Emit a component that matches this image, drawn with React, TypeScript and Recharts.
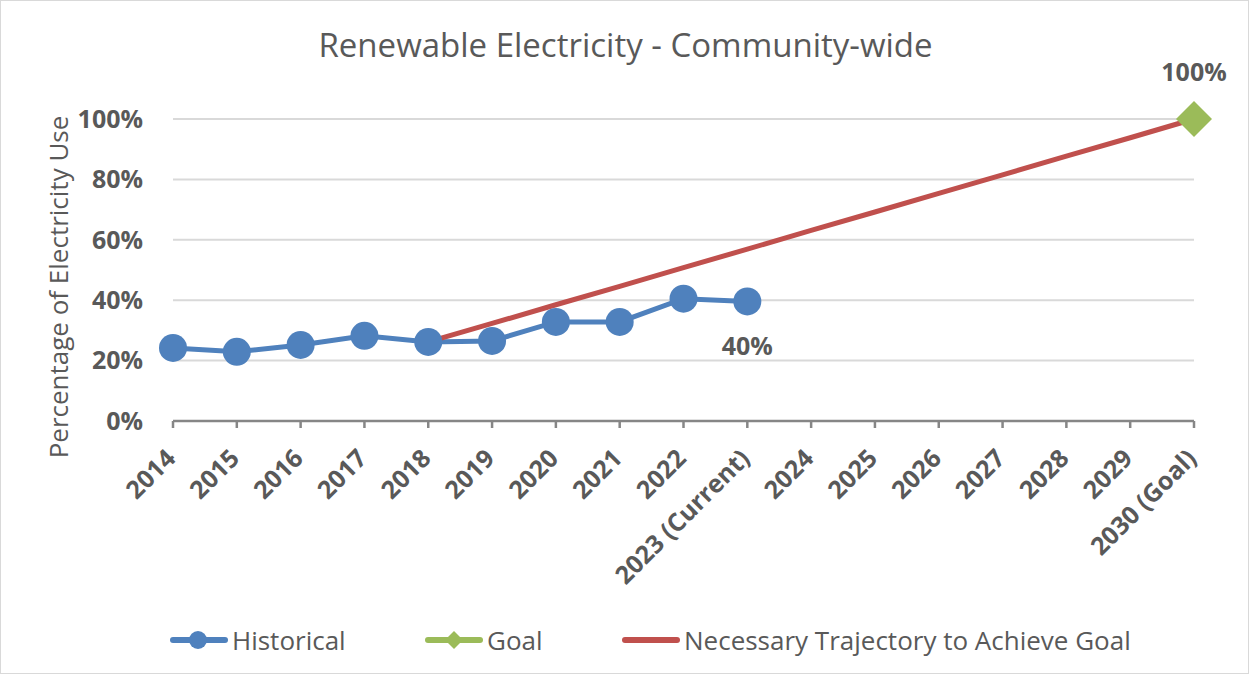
import { LineChart, Line, XAxis, YAxis, CartesianGrid, LabelList } from "recharts";

const categories = [
  "2014", "2015", "2016", "2017", "2018", "2019", "2020", "2021", "2022",
  "2023 (Current)", "2024", "2025", "2026", "2027", "2028", "2029", "2030 (Goal)",
];
const historical = [0.242, 0.229, 0.252, 0.282, 0.262, 0.265, 0.328, 0.328, 0.405, 0.396, null, null, null, null, null, null, null];
const goal = [null, null, null, null, null, null, null, null, null, null, null, null, null, null, null, null, 1.0];
const trajectory = [null, null, null, null, 0.262, 0.323, 0.385, 0.446, 0.508, 0.569, 0.631, 0.692, 0.754, 0.815, 0.877, 0.938, 1.0];
const yTicks = [0, 0.2, 0.4, 0.6, 0.8, 1.0];

const data = categories.map((c, i) => ({
  name: c,
  historical: historical[i],
  goal: goal[i],
  trajectory: trajectory[i],
}));

const FONT = "'Open Sans', 'Noto Sans', sans-serif";
const GREY = "#595959";
const BLUE = "#4f81bd";
const GREEN = "#9bbb59";
const RED = "#c0504d";

const pct = (v: number) => `${Math.round(v * 100)}%`;

function XTick({ x, y, payload }: any) {
  return (
    <text
      transform={`translate(${x + 4},${y + 30}) rotate(-45)`}
      textAnchor="end"
      fill={GREY}
      fontSize={25}
      fontWeight={700}
      fontFamily={FONT}
    >
      {payload.value}
    </text>
  );
}

function YTick({ x, y, payload }: any) {
  return (
    <text x={x - 2} y={y} dy="0.35em" textAnchor="end" fill={GREY} fontSize={25} fontWeight={700} fontFamily={FONT}>
      {pct(payload.value)}
    </text>
  );
}

function Diamond({ cx, cy, value }: any) {
  if (value == null || cx == null) return null;
  const s = 18;
  return <path d={`M${cx},${cy - s}L${cx + s},${cy}L${cx},${cy + s}L${cx - s},${cy}Z`} fill={GREEN} />;
}

function HistLabel({ x, y, value, index }: any) {
  if (index !== 9) return null;
  return (
    <text x={x} y={y + 45} dy="0.35em" textAnchor="middle" fill={GREY} fontSize={25} fontWeight={700} fontFamily={FONT}>
      {pct(value)}
    </text>
  );
}

function GoalLabel({ x, y, value }: any) {
  if (value == null) return null;
  return (
    <text x={x} y={y - 47} dy="0.35em" textAnchor="middle" fill={GREY} fontSize={25} fontWeight={700} fontFamily={FONT}>
      {pct(value)}
    </text>
  );
}

function LegendBox() {
  const item = (label: string, color: string, marker: "circle" | "diamond" | null, left: number) => (
    <div style={{ position: "absolute", left, top: 0, display: "flex", alignItems: "center", whiteSpace: "nowrap" }}>
      <svg width={58} height={24} style={{ marginRight: 4 }}>
        <line x1={3} y1={12} x2={55} y2={12} stroke={color} strokeWidth={6} strokeLinecap="round" />
        {marker === "circle" && <circle cx={28} cy={12} r={9} fill={color} />}
        {marker === "diamond" && <path d="M29,3L38,12L29,21L20,12Z" fill={color} />}
      </svg>
      <span>{label}</span>
    </div>
  );
  return (
    <div
      style={{
        position: "absolute",
        top: 621,
        left: 0,
        width: 1249,
        height: 36,
        fontFamily: FONT,
        fontSize: 26,
        color: GREY,
      }}
    >
      {item("Historical", BLUE, "circle", 169)}
      {item("Goal", GREEN, "diamond", 424)}
      {item("Necessary Trajectory to Achieve Goal", RED, null, 621)}
    </div>
  );
}

export default function App() {
  return (
    <div
      style={{
        position: "absolute",
        left: 0,
        top: 0,
        width: 1249,
        height: 674,
        background: "#fff",
        boxSizing: "border-box",
        border: "1px solid #d9d9d9",
      }}
    >
      <div
        style={{
          position: "absolute",
          top: 21,
          left: 0,
          width: 1249,
          textAlign: "center",
          fontFamily: FONT,
          fontSize: 33,
          color: GREY,
          whiteSpace: "nowrap",
        }}
      >
        Renewable Electricity - Community-wide
      </div>
      <LineChart
        width={1247}
        height={672}
        data={data}
        margin={{ top: 118, right: 54, bottom: 92, left: 20 }}
        style={{ position: "absolute", left: 0, top: 0 }}
      >
        <CartesianGrid horizontal vertical={false} stroke="#d9d9d9" strokeWidth={2} />
        <XAxis
          dataKey="name"
          interval={0}
          height={160}
          tick={<XTick />}
          tickSize={7}
          tickLine={{ stroke: "#868686", strokeWidth: 2.5 }}
          axisLine={{ stroke: "#868686", strokeWidth: 2.5 }}
        />
        <YAxis
          domain={[0, 1]}
          ticks={yTicks}
          width={152}
          tick={<YTick />}
          tickLine={false}
          axisLine={false}
          tickSize={0}
          tickMargin={28}
          label={{
            content: () => (
              <text
                transform="translate(58,286) rotate(-90)"
                textAnchor="middle"
                dy="0.35em"
                fill={GREY}
                fontSize={26}
                fontFamily={FONT}
              >
                Percentage of Electricity Use
              </text>
            ),
          }}
        />
        <Line
          dataKey="historical"
          name="Historical"
          stroke={BLUE}
          strokeWidth={5}
          dot={{ r: 14, fill: BLUE, stroke: "none" }}
          activeDot={false}
          isAnimationActive={false}
        >
          <LabelList dataKey="historical" content={<HistLabel />} />
        </Line>
        <Line
          dataKey="goal"
          name="Goal"
          stroke={GREEN}
          strokeWidth={5}
          dot={<Diamond />}
          activeDot={false}
          isAnimationActive={false}
        >
          <LabelList dataKey="goal" content={<GoalLabel />} />
        </Line>
        <Line
          dataKey="trajectory"
          name="Necessary Trajectory to Achieve Goal"
          stroke={RED}
          strokeWidth={5}
          dot={false}
          activeDot={false}
          isAnimationActive={false}
        />
      </LineChart>
      <LegendBox />
    </div>
  );
}
